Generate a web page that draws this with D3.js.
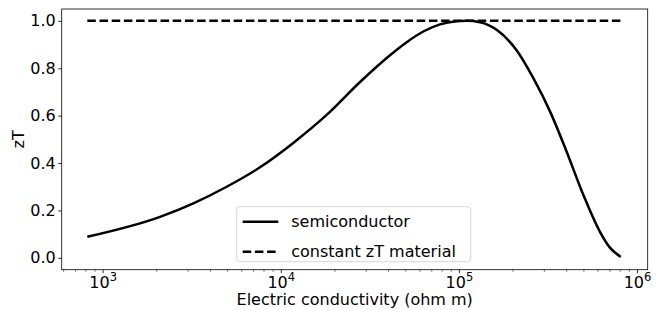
<!DOCTYPE html>
<html>
<head>
<meta charset="utf-8">
<script src="https://cdn.jsdelivr.net/npm/d3@7"></script>
<style>
body { margin: 0; background: #fff; }
text { font-family: "DejaVu Sans", sans-serif; }
</style>
</head>
<body>
<div id="chart"></div>
<script>
// conductivity values
var sigma = [820, 2100, 3230, 4970, 7640, 11750, 18100, 27860, 41020, 50930, 63100,
    78340, 97270, 110700, 131500, 162900, 211300, 261800, 325100, 402700, 500000, 619400, 706300, 810900];
var ztSemi = [0.089, 0.173, 0.230, 0.300, 0.382, 0.485, 0.603, 0.742, 0.855, 0.910, 0.955,
    0.985, 0.998, 1.0, 0.994, 0.962, 0.875, 0.758, 0.617, 0.448, 0.265, 0.110, 0.042, 0.004];
var ztConst = sigma.map(function(){ return 1.0 });
var yTicks = [0, 0.2, 0.4, 0.6, 0.8, 1.0];
var xTicks = [1e3, 1e4, 1e5, 1e6];
var xTickExp = ['3', '4', '5', '6'];
var seriesNames = ['semiconductor', 'constant zT material'];

var W = 658, H = 310;
var margin = {top: 9, left: 61.7, right: 10.3, bottom: 40.3};
var width = W - margin.left - margin.right;
var height = H - margin.top - margin.bottom;

var svg = d3.select('#chart').append('svg')
    .attr('width', W)
    .attr('height', H);

var g = svg.append('g')
    .attr('transform', 'translate(' + margin.left + ',' + margin.top + ')');

var x = d3.scaleLog()
    .domain([Math.pow(10, 2.77), Math.pow(10, 6.06)])
    .range([0, width]);

var y = d3.scaleLinear()
    .domain([-0.05, 1.05])
    .range([height, 0]);

// minor ticks
var minor = [];
for (var e = 2; e <= 6; e++) {
    for (var m = 2; m <= 9; m++) {
        var v = m * Math.pow(10, e);
        if (v >= x.domain()[0] && v <= x.domain()[1]) minor.push(v);
    }
}

g.append('g')
    .attr('transform', 'translate(0,' + height + ')')
    .call(d3.axisBottom(x).tickValues(minor).tickSize(2).tickFormat(''))
    .call(function(a){ a.select('.domain').remove() })
    .selectAll('line').attr('stroke', '#000').attr('stroke-width', 0.6);

var xAxis = g.append('g')
    .attr('transform', 'translate(0,' + height + ')')
    .call(d3.axisBottom(x).tickValues(xTicks).tickSize(3.5).tickFormat(''));
xAxis.select('.domain').remove();
xAxis.selectAll('line').attr('stroke', '#000').attr('stroke-width', 0.8);

xAxis.selectAll('.tick').each(function(d, i){
    var t = d3.select(this).append('text')
        .attr('y', 18)
        .attr('fill', '#000')
        .attr('font-size', 16)
        .attr('text-anchor', 'middle');
    t.append('tspan').text('10');
    t.append('tspan').attr('dy', -7).attr('font-size', 11.5).text(xTickExp[i]);
});

var yAxis = g.append('g')
    .call(d3.axisLeft(y).tickValues(yTicks).tickSize(3.5).tickFormat(d3.format('.1f')));
yAxis.select('.domain').remove();
yAxis.selectAll('line').attr('stroke', '#000').attr('stroke-width', 0.8);
yAxis.selectAll('text')
    .attr('font-size', 16)
    .attr('fill', '#000')
    .attr('font-family', '"DejaVu Sans", sans-serif')
    .attr('x', -6);

var line = d3.line()
    .x(function(d){ return x(d[0]) })
    .y(function(d){ return y(d[1]) })
    .curve(d3.curveMonotoneX);

g.append('path')
    .datum(d3.zip(sigma, ztSemi))
    .attr('d', line)
    .attr('fill', 'none')
    .attr('stroke', '#000')
    .attr('stroke-width', 2.5);

g.append('path')
    .datum(d3.zip(sigma, ztConst))
    .attr('d', line)
    .attr('fill', 'none')
    .attr('stroke', '#000')
    .attr('stroke-width', 2.5)
    .attr('stroke-dasharray', '8.5,3.7');

// frame
g.append('rect')
    .attr('width', width)
    .attr('height', height)
    .attr('fill', 'none')
    .attr('stroke', '#000')
    .attr('stroke-width', 0.8);

// axis labels
svg.append('text')
    .attr('x', margin.left + width / 2)
    .attr('y', 305)
    .attr('text-anchor', 'middle')
    .attr('font-size', 16)
    .text('Electric conductivity (ohm m)');

svg.append('text')
    .attr('transform', 'translate(24,' + (margin.top + height / 2) + ') rotate(-90)')
    .attr('text-anchor', 'middle')
    .attr('font-size', 16)
    .text('zT');

// legend
var legend = svg.append('g')
    .attr('transform', 'translate(236.7,206.7)');
legend.append('rect')
    .attr('width', 234)
    .attr('height', 55)
    .attr('rx', 3)
    .attr('fill', '#fff')
    .attr('fill-opacity', 0.8)
    .attr('stroke', '#ccc')
    .attr('stroke-width', 0.8);

seriesNames.forEach(function(name, i){
    var ly = 15 + i * 30;
    legend.append('line')
        .attr('x1', 6).attr('x2', 41.6)
        .attr('y1', ly).attr('y2', ly)
        .attr('stroke', '#000')
        .attr('stroke-width', 2.5)
        .attr('stroke-dasharray', i == 1 ? '8.5,3.7' : null);
    legend.append('text')
        .attr('x', 54.5)
        .attr('y', ly + 5.5)
        .attr('font-size', 16)
        .text(name);
});
</script>
</body>
</html>
